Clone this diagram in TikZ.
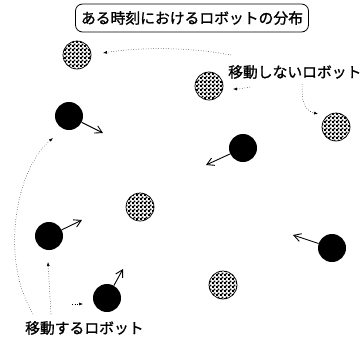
\documentclass[tikz,border=0pt]{standalone}
\usepackage{fontspec}
\newfontfamily\jp[FakeBold=1.2]{Noto Sans CJK JP}
\usetikzlibrary{patterns,arrows.meta}
\pgfdeclarepatternformonly{chk}{\pgfqpoint{0pt}{0pt}}{\pgfqpoint{4pt}{4pt}}{\pgfqpoint{4pt}{4pt}}{%
 \pgfpathrectangle{\pgfqpoint{0pt}{0pt}}{\pgfqpoint{2.2pt}{2.2pt}}%
 \pgfpathrectangle{\pgfqpoint{2pt}{2pt}}{\pgfqpoint{2.2pt}{2.2pt}}%
 \pgfusepath{fill}}
\begin{document}
\begin{tikzpicture}[x=1pt,y=-1pt,
  mover/.style={circle,fill=black,minimum size=28pt,inner sep=0pt},
  stayer/.style={circle,draw=black,line width=0.7pt,pattern=chk,minimum size=28pt,inner sep=0pt},
  movearrow/.style={line width=0.9pt,-{Straight Barb[length=7pt,width=8pt,line width=0.9pt]}},
  lead/.style={dotted,line width=0.5pt,-{Latex[length=4pt,width=3pt]}},
  lbl/.style={font=\jp\fontsize{14.8}{16}\selectfont,inner sep=0pt}]
\useasboundingbox (0,0) rectangle (364,343);
% title
\node[lbl,draw,line width=0.8pt,rounded corners=7pt,minimum width=233pt,minimum height=28pt] (title) at (192,18) {ある時刻におけるロボットの分布};
% labels
\node[lbl,anchor=west] (tstay) at (228,72) {移動しないロボット};
\node[lbl,anchor=west] (tmove) at (25,328) {移動するロボット};
% stationary robots
\node[stayer] (s1) at (77,55) {};
\node[stayer] (s2) at (209,86) {};
\node[stayer] (s3) at (336,127) {};
\node[stayer] (s4) at (140,207) {};
\node[stayer] (s5) at (223,285) {};
% moving robots
\node[mover] (m1) at (69,116) {};
\node[mover] (m2) at (243,148) {};
\node[mover] (m3) at (49,236) {};
\node[mover] (m4) at (332,248) {};
\node[mover] (m5) at (107,298) {};
% motion arrows
\coordinate (e1) at (103,133);
\coordinate (e2) at (206,165);
\coordinate (e3) at (82,220);
\coordinate (e4) at (293,235);
\coordinate (e5) at (123,269);
\draw[movearrow] (m1) -- (e1);
\draw[movearrow] (m2) -- (e2);
\draw[movearrow] (m3) -- (e3);
\draw[movearrow] (m4) -- (e4);
\draw[movearrow] (m5) -- (e5);
% leaders for stationary robots
\coordinate (a1) at (231,55);
\coordinate (b1) at (103,53);
\coordinate (a2) at (250,87);
\coordinate (b2) at (233,89);
\coordinate (a3) at (302,84);
\coordinate (b3) at (318,114);
\draw[lead] (a1) .. controls (190,47) and (140,47) .. (b1);
\draw[lead] (a2) .. controls (244,88) and (240,89) .. (b2);
\draw[lead] (a3) .. controls (302,100) and (303,110) .. (b3);
% leaders for moving robots
\coordinate (c1) at (33,314);
\coordinate (d1) at (53,138);
\coordinate (c2) at (51,314);
\coordinate (d2) at (48,262);
\coordinate (c3) at (72,304);
\coordinate (d3) at (83,304);
\draw[lead] (c1) .. controls (0,260) and (15,170) .. (d1);
\draw[lead] (c2) -- (d2);
\draw[lead] (c3) -- (d3);
\end{tikzpicture}
\end{document}
